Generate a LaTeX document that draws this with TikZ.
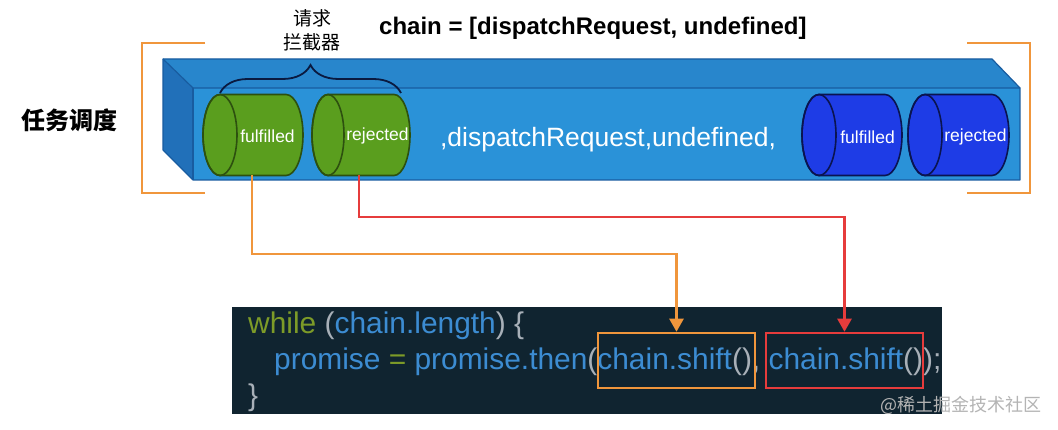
\documentclass[tikz,border=0pt]{standalone}
\usepackage{fontspec}
\setmainfont{Liberation Sans}
\newfontfamily\cjk{Noto Sans CJK SC}
\usetikzlibrary{arrows.meta,decorations.pathreplacing}
\definecolor{boxfront}{RGB}{42,146,216}
\definecolor{boxtop}{RGB}{40,134,204}
\definecolor{boxside}{RGB}{33,112,185}
\definecolor{boxedge}{RGB}{24,92,160}
\definecolor{cylgreen}{RGB}{90,158,30}
\definecolor{cylgreenline}{RGB}{45,80,15}
\definecolor{cylblue}{RGB}{30,60,230}
\definecolor{cylblueline}{RGB}{10,20,80}
\definecolor{lineorange}{RGB}{240,150,60}
\definecolor{linered}{RGB}{230,60,60}
\definecolor{codebg}{RGB}{16,36,48}
\definecolor{codeblue}{RGB}{60,140,210}
\definecolor{codegreen}{RGB}{125,155,40}
\definecolor{codegrey}{RGB}{168,176,184}
\definecolor{wmgrey}{RGB}{180,180,180}
\definecolor{bracecol}{RGB}{10,26,64}
\newcommand\mycyl[5]{%
  \filldraw[fill=#4,draw=#5,line width=1.6] (#1,-94.5) -- (#2,-94.5)
    arc[start angle=90,end angle=-90,x radius=#3,y radius=40.5] -- (#1,-175.5)
    arc[start angle=270,end angle=90,x radius=#3,y radius=40.5] -- cycle;
  \draw[#5,line width=1.6] (#1,-135) ellipse[x radius=#3,y radius=40.5];}
\tikzset{
  cyltext/.style={text=white,font=\fontsize{17.5}{20}\selectfont,inner sep=0},
  cylarea/.style={minimum width=100,minimum height=81,inner sep=0,outer sep=0},
  bracketline/.style={draw=lineorange,line width=2.6},
  conn/.style={line width=2.4,-{Triangle[width=14pt,length=13pt]}},
  hlbox/.style={minimum width=157,minimum height=55,inner sep=0,line width=2.5},
  codeline/.style={anchor=base west,inner sep=0,font=\fontsize{29.9}{35}\selectfont},
}
\begin{document}
\begin{tikzpicture}[x=1pt,y=1pt]
\useasboundingbox[fill=white] (0,0) rectangle (1058,-430);
% brackets
\draw[bracketline] (205,-43) -- (142,-43) -- (142,-193) -- (205,-193);
\draw[bracketline] (967,-43) -- (1030,-43) -- (1030,-193) -- (967,-193);
% 3D box
\fill[boxtop] (163,-59) -- (992,-59) -- (1020,-88) -- (193,-88) -- cycle;
\fill[boxside] (163,-59) -- (193,-88) -- (193,-180) -- (163,-150) -- cycle;
\fill[boxfront] (193,-88) rectangle (1020,-180);
\draw[boxedge,line width=1.2,line join=round] (163,-59) -- (992,-59) -- (1020,-88) -- (1020,-180) -- (193,-180) -- (163,-150) -- cycle;
\draw[boxedge,line width=1.2] (163,-59) -- (193,-88) -- (1020,-88);
\draw[boxedge,line width=1.2] (193,-88) -- (193,-180);
% cylinders
\mycyl{220}{286}{17}{cylgreen}{cylgreenline}
\mycyl{328}{394}{16}{cylgreen}{cylgreenline}
\mycyl{819}{885}{17}{cylblue}{cylblueline}
\mycyl{925}{992}{17}{cylblue}{cylblueline}
\node[cylarea] (gf) at (252,-135) {};
\node[cylarea] (gr) at (359,-135) {};
\node[cyltext] (gft) at (267.5,-136) {fulfilled};
\node[cyltext] (grt) at (377.5,-136) {rejected};
\node[cyltext] (bft) at (867.5,-137) {fulfilled};
\node[cyltext] (brt) at (975.5,-137) {rejected};
\node[text=white,inner sep=0,font=\fontsize{26.5}{30}\selectfont] (mid) at (608,-140) {,dispatchRequest,undefined,};
% brace
\draw[bracecol,line width=1.8,decorate,decoration={brace,amplitude=28}] (220,-93) -- (401,-93);
% labels
\node[inner sep=0,align=center,font=\cjk\fontsize{19}{24}\selectfont] (req) at (312,-30) {请求\\拦截器};
\node[inner sep=0,anchor=west,font=\bfseries\fontsize{24}{28}\selectfont] (title) at (379,-28) {chain = [dispatchRequest, undefined]};
\node[inner sep=0,anchor=west,font=\cjk\bfseries\fontsize{24}{28}\selectfont] (sched) at (21,-120) {任务调度};
% code box
\fill[codebg] (232,-307) rectangle (942,-414);
\node[codeline] (l1) at (248,-334) {\textcolor{codegreen}{while} \textcolor{codegrey}{(}\textcolor{codeblue}{chain.length}\textcolor{codegrey}{) \{}};
\node[codeline] (l2) at (274,-369.5) {\textcolor{codeblue}{promise} \textcolor{codegreen}{=} \textcolor{codeblue}{promise.then}\textcolor{codegrey}{(}\textcolor{codeblue}{chain.shift}\textcolor{codegrey}{(),} \textcolor{codeblue}{chain.shift}\textcolor{codegrey}{());}};
\node[codeline,text=codegrey] (l3) at (248,-405) {\}};
\node[hlbox,draw=lineorange] (ob) at (676.5,-360.5) {};
\node[hlbox,draw=linered] (rb) at (844.5,-360.5) {};
% connectors
\draw[conn,lineorange] (gf.south) -- ++(0,-78.5) -| (ob.north);
\draw[conn,linered] (gr.south) -- ++(0,-41.5) -| (rb.north);
% watermark
\node[inner sep=0,anchor=west,text=wmgrey,font=\cjk\fontsize{18}{20}\selectfont] (wm) at (880,-405) {@稀土掘金技术社区};
\end{tikzpicture}
\end{document}
